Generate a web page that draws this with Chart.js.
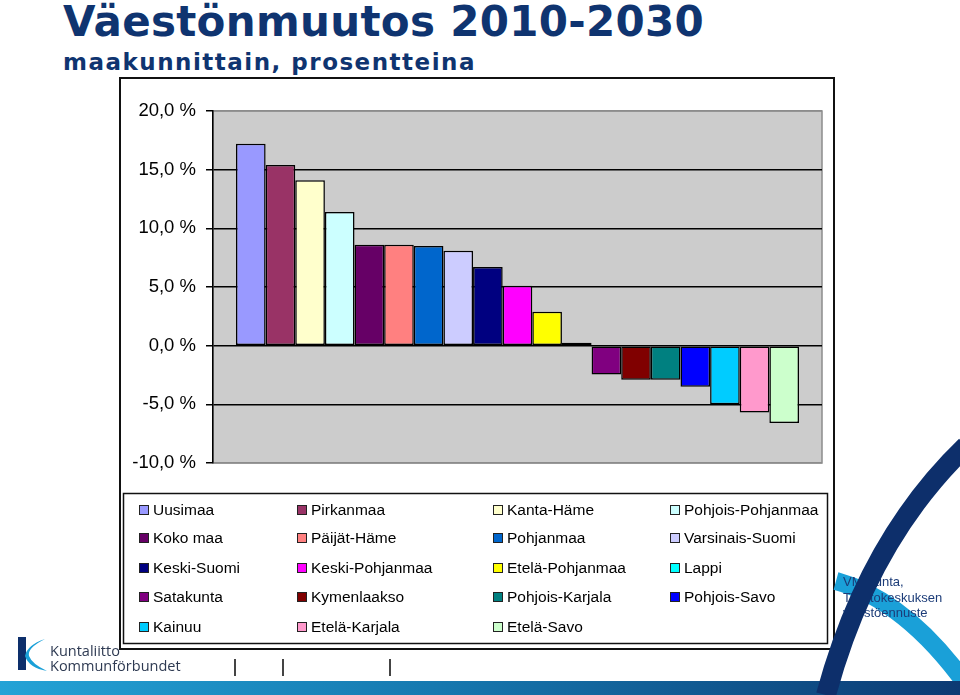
<!DOCTYPE html>
<html>
<head>
<meta charset="utf-8">
<script src="https://cdn.jsdelivr.net/npm/chart.js@4"></script>
<style>
  html, body { margin: 0; padding: 0; background: #fff; }
  body { width: 960px; height: 695px; position: relative; overflow: hidden; font-family: 'Liberation Sans', Arial, sans-serif; }
  #title { position: absolute; left: 63px; top: 1px; font: bold 42px/42px 'DejaVu Sans', Verdana, sans-serif; letter-spacing: 0.3px; color: #0f3470; white-space: nowrap; }
  #subtitle { position: absolute; left: 63px; top: 51px; font: bold 23px/23px 'DejaVu Sans', Verdana, sans-serif; letter-spacing: 1.5px; color: #0f3470; white-space: nowrap; }
  #box { position: absolute; left: 119px; top: 77px; width: 716px; height: 573px; box-sizing: border-box; border: 2px solid #111; background: #fff; }
  #box canvas { display: block; }
  #band { position: absolute; left: 0; top: 681px; width: 960px; height: 14px; background: linear-gradient(to right, #24a3d6 0%, #1679b0 45%, #0c3a73 100%); }
  #source { position: absolute; left: 843px; top: 574px; font: 13px 'Liberation Sans', Arial, sans-serif; color: #1c3c78; line-height: 15.5px; }
  .deco { position: absolute; left: 0; top: 0; }
  .sep { position: absolute; top: 659px; width: 1.5px; height: 17px; background: #444; }
  #logoText { position: absolute; left: 50px; top: 643px; font: 14.5px 'Open Sans', sans-serif; color: #2e3a52; line-height: 15px; }
</style>
</head>
<body>
<div id="title">Väestönmuutos 2010-2030</div>
<div id="subtitle">maakunnittain, prosentteina</div>
<div id="box"><canvas id="chart" width="712" height="569"></canvas></div>
<svg class="deco" width="960" height="695">
  <path d="M836 581 Q 905 600 966 684" stroke="#1aa0d8" stroke-width="18" fill="none"/>
</svg>
<div id="source">VM/Kunta,<br>Tilastokeskuksen<br>väestöennuste</div>
<div id="logoText">Kuntaliitto<br>Kommunförbundet</div>
<div class="sep" style="left:234px"></div>
<div class="sep" style="left:282px"></div>
<div class="sep" style="left:389px"></div>
<div id="band"></div>
<svg class="deco" width="960" height="695">
  <path d="M826 695 Q 868 540 966 446" stroke="#0d2f6b" stroke-width="20" fill="none"/>
  <path d="M22 637 L22 670" stroke="#0d2f6b" stroke-width="8" fill="none"/>
  <path d="M45 639 Q 27 648 29 656 Q 32 664 47 671 Q 29 668 25 656 Q 27 645 45 639 Z" fill="#1aa0d8"/>
</svg>
<script>
const regions = ['Uusimaa', 'Pirkanmaa', 'Kanta-Häme', 'Pohjois-Pohjanmaa', 'Koko maa', 'Päijät-Häme',
  'Pohjanmaa', 'Varsinais-Suomi', 'Keski-Suomi', 'Keski-Pohjanmaa', 'Etelä-Pohjanmaa', 'Lappi',
  'Satakunta', 'Kymenlaakso', 'Pohjois-Karjala', 'Pohjois-Savo', 'Kainuu', 'Etelä-Karjala', 'Etelä-Savo'];
const changes = [17.2, 15.4, 14.1, 11.4, 8.6, 8.6, 8.5, 8.1, 6.7, 5.1, 2.9, 0.25,
  -2.45, -2.9, -2.9, -3.5, -5.0, -5.7, -6.6];
const colors = ['#9999ff', '#993366', '#ffffcc', '#ccffff', '#660066', '#ff8080', '#0066cc', '#ccccff',
  '#000080', '#ff00ff', '#ffff00', '#00ffff', '#800080', '#800000', '#008080', '#0000ff',
  '#00ccff', '#ff99cc', '#ccffcc'];
const yMin = -10, yMax = 20, yStep = 5;

const FONT = "'Liberation Sans', Arial, sans-serif";

// gray plot area + border, drawn before bars
const plotBg = {
  id: 'plotBg',
  beforeDraw(chart) {
    const { ctx, chartArea: a } = chart;
    ctx.save();
    ctx.fillStyle = '#cccccc';
    ctx.fillRect(a.left, a.top, a.right - a.left, a.bottom - a.top);
    ctx.strokeStyle = '#8c8c8c';
    ctx.lineWidth = 1.5;
    ctx.strokeRect(a.left, a.top, a.right - a.left, a.bottom - a.top);
    ctx.restore();
  }
};

// legend as a 4-column grid in its own framed box
const gridLegend = {
  id: 'gridLegend',
  afterDraw(chart) {
    const ctx = chart.ctx;
    ctx.save();
    ctx.strokeStyle = '#111';
    ctx.lineWidth = 1.5;
    ctx.strokeRect(2.5, 414.5, 704, 150);
    const cols = [18, 176, 372, 549];
    const rowY = [431, 459, 489, 518, 548];
    ctx.font = '15.5px ' + FONT;
    ctx.textBaseline = 'middle';
    chart.data.datasets.forEach((ds, i) => {
      const x = cols[i % 4], y = rowY[Math.floor(i / 4)];
      ctx.fillStyle = ds.backgroundColor;
      ctx.fillRect(x, y - 5, 10, 10);
      ctx.strokeStyle = '#222';
      ctx.lineWidth = 1;
      ctx.strokeRect(x + 0.5, y - 4.5, 9, 9);
      ctx.fillStyle = '#000';
      ctx.fillText(ds.label, x + 14, y + 1);
    });
    ctx.restore();
  }
};

new Chart(document.getElementById('chart'), {
  type: 'bar',
  data: {
    labels: [''],
    datasets: regions.map((name, i) => ({
      label: name,
      data: [changes[i]],
      backgroundColor: colors[i],
      borderColor: '#000',
      borderWidth: 1.5,
      borderSkipped: false,
      categoryPercentage: 0.9245,
      barPercentage: 1
    }))
  },
  options: {
    responsive: false,
    animation: false,
    layout: { padding: { left: 0, top: 32, right: 11, bottom: 185 } },
    plugins: { legend: { display: false }, tooltip: { enabled: false } },
    scales: {
      x: { display: false },
      y: {
        min: yMin, max: yMax,
        afterFit(scale) { scale.width = 92; },
        ticks: {
          stepSize: yStep,
          color: '#000',
          padding: 10,
          font: { family: FONT, size: 18.5 },
          callback: v => v.toFixed(1).replace('.', ',') + ' %'
        },
        grid: {
          color: c => (c.tick && (c.tick.value === yMax || c.tick.value === yMin)) ? '#8c8c8c' : '#000',
          lineWidth: 1.5,
          tickLength: 7,
          tickColor: '#000',
          tickWidth: 1.5
        },
        border: { display: true, color: '#000', width: 1.5 }
      }
    }
  },
  plugins: [plotBg, gridLegend]
});
</script>
</body>
</html>
